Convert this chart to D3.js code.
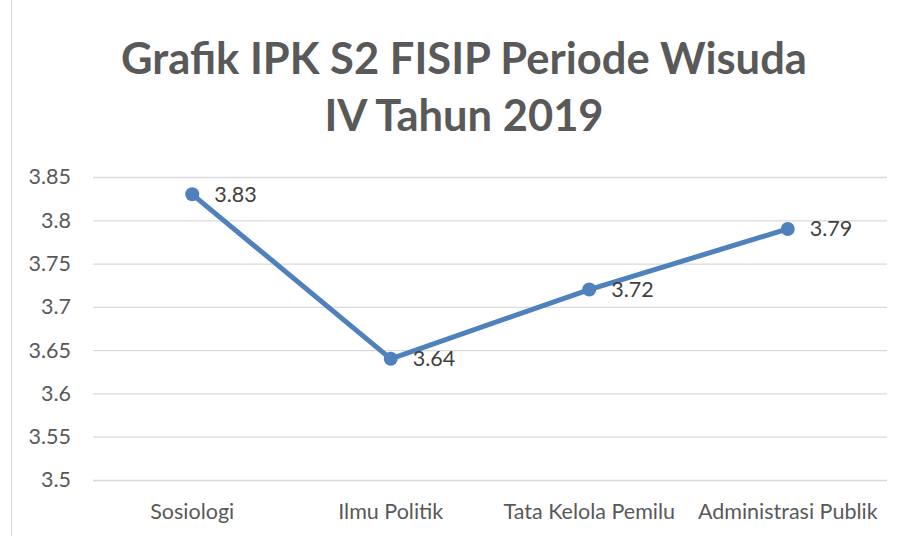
<!DOCTYPE html>
<html>
<head>
<meta charset="utf-8">
<script src="https://cdn.jsdelivr.net/npm/d3@7"></script>
<style>
  body { margin: 0; background: #fff; }
  text { font-family: Lato, "Open Sans", sans-serif; }
</style>
</head>
<body>
<svg id="chart"></svg>
<script>
let categories = ['Sosiologi', 'Ilmu Politik', 'Tata Kelola Pemilu', 'Administrasi Publik'];
let values = [3.83, 3.64, 3.72, 3.79];
let yTicks = [3.5, 3.55, 3.6, 3.65, 3.7, 3.75, 3.8, 3.85];
let titleLines = ['Grafik IPK S2 FISIP Periode Wisuda', 'IV Tahun 2019'];

let w = 897, h = 536;
let plot = { left: 93, right: 887, top: 177, bottom: 480 };
let fontSize = 21.5;

let svg = d3.select('#chart')
    .attr('width', w)
    .attr('height', h);

// chart frame
svg.append('rect')
    .attr('x', 11.5).attr('y', -2)
    .attr('width', w).attr('height', h + 4)
    .attr('fill', 'none')
    .attr('stroke', '#d9d9d9');

svg.append('g')
    .selectAll('text')
    .data(titleLines)
    .enter()
    .append('text')
    .attr('x', 464)
    .attr('y', (d, i) => 74 + i * 57)
    .attr('text-anchor', 'middle')
    .attr('font-size', 43.5)
    .attr('font-weight', 'bold')
    .attr('fill', '#595959')
    .text(d => d);

let x = d3.scaleBand().domain(categories).range([plot.left, plot.right]);
let y = d3.scaleLinear().domain([3.5, 3.85]).range([plot.bottom, plot.top]);

let yAxis = d3.axisLeft(y)
    .tickValues(yTicks)
    .tickFormat(d => String(+d.toFixed(2)))
    .tickSizeInner(-(plot.right - plot.left))
    .tickSizeOuter(0)
    .tickPadding(22);

let $yAxis = svg.append('g')
    .attr('transform', `translate(${plot.left}, 0)`)
    .call(yAxis);
$yAxis.select('.domain').remove();
$yAxis.selectAll('line').attr('stroke', '#d9d9d9').attr('stroke-width', 1.3);
$yAxis.selectAll('text')
    .attr('font-size', fontSize)
    .attr('fill', '#595959')
    .attr('font-family', 'Lato, "Open Sans", sans-serif');

let xAxis = d3.axisBottom(x).tickSize(0).tickPadding(24);
let $xAxis = svg.append('g')
    .attr('transform', `translate(0, ${plot.bottom})`)
    .call(xAxis);
$xAxis.select('.domain').remove();
$xAxis.selectAll('text')
    .attr('font-size', fontSize)
    .attr('fill', '#595959')
    .attr('font-family', 'Lato, "Open Sans", sans-serif');

let cx = d => x(d) + x.bandwidth() / 2;

let line = d3.line()
    .x((d, i) => cx(categories[i]))
    .y(d => y(d));

svg.append('path')
    .datum(values)
    .attr('d', line)
    .attr('fill', 'none')
    .attr('stroke', '#4f81bd')
    .attr('stroke-width', 5)
    .attr('stroke-linejoin', 'round');

svg.append('g')
    .selectAll('circle')
    .data(values)
    .enter()
    .append('circle')
    .attr('cx', (d, i) => cx(categories[i]))
    .attr('cy', d => y(d))
    .attr('r', 7)
    .attr('fill', '#4f81bd');

svg.append('g')
    .selectAll('text')
    .data(values)
    .enter()
    .append('text')
    .attr('x', (d, i) => cx(categories[i]) + 22)
    .attr('y', d => y(d))
    .attr('dy', '0.35em')
    .attr('font-size', fontSize)
    .attr('fill', '#404040')
    .text(d => d.toFixed(2));
</script>
</body>
</html>
